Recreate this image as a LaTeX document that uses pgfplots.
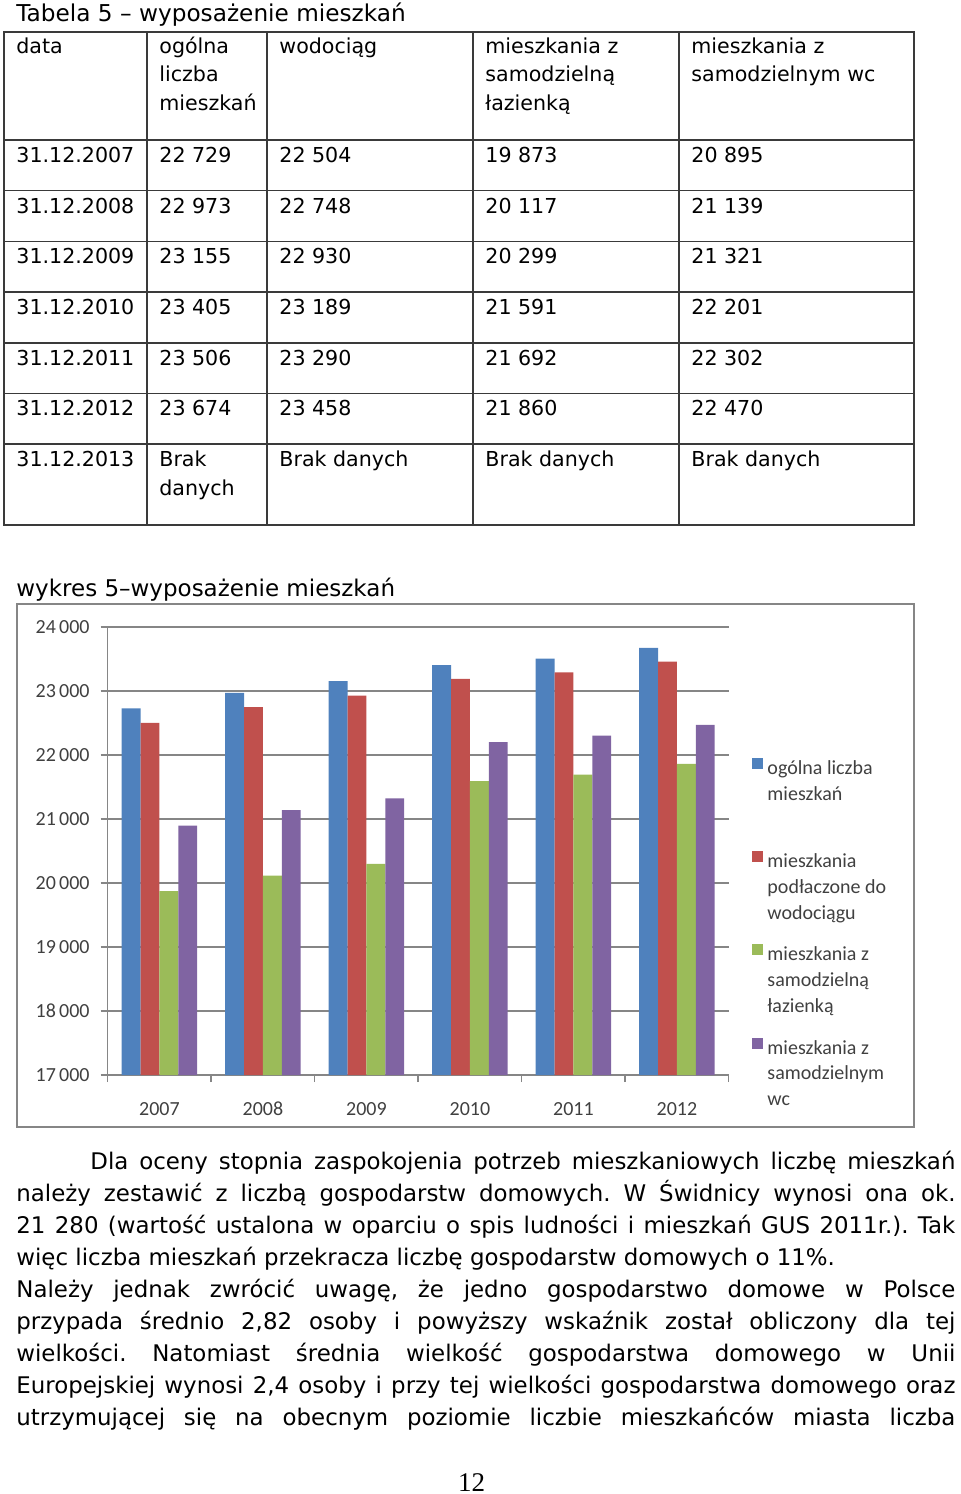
\documentclass[border=0pt]{standalone}
\usepackage{pgfplots}
\pgfplotsset{compat=1.18}
\usepackage{pgfplotstable}
\usepackage{fontspec}
\setmainfont{DejaVu Sans}
\newfontfamily\calfont{Carlito}
\newfontfamily\tmsfont{Liberation Serif}
\definecolor{sblue}{HTML}{4F81BD}
\definecolor{sred}{HTML}{C0504D}
\definecolor{sgreen}{HTML}{9BBB59}
\definecolor{spurple}{HTML}{8064A2}
\definecolor{gridgray}{HTML}{868686}
\definecolor{tabline}{HTML}{3A3A3A}
\definecolor{labelgray}{HTML}{404040}
\hyphenpenalty=10000
\exhyphenpenalty=10000
\frenchspacing

\pgfplotstableread{
x b r g p
0 22729 22504 19873 20895
1 22973 22748 20117 21139
2 23155 22930 20299 21321
3 23405 23189 21591 22201
4 23506 23290 21692 22302
5 23674 23458 21860 22470
}\datatab

\newcommand\tc[3]{\node[anchor=base west,inner sep=0pt] at (#1,#2) {#3};}
\newcommand\lgd[1]{\vtop{#1}}

\begin{document}
\begin{tikzpicture}
\path (0,0) rectangle (480pt,-747pt);
\begin{scope}[x=0.5pt,y=-0.5pt]
  \node[anchor=base west,inner sep=0pt,font=\fontsize{11.6}{13}\selectfont] at (16,21.7) {Tabela 5 – wyposażenie mieszkań};
  \draw[tabline,line width=0.75pt] (4,32) rectangle (914,525);
  \foreach \yy in {140,190.7,241.4,292.1,342.8,393.5,444.2} \draw[tabline,line width=0.75pt] (4,\yy) -- (914,\yy);
  \foreach \xx in {147,267,473,679} \draw[tabline,line width=0.75pt] (\xx,32) -- (\xx,525);
  \begin{scope}[every node/.style={font=\fontsize{10.3}{12}\selectfont}]
    \tc{16}{53}{data}
    \tc{159}{53}{ogólna}\tc{159}{81.5}{liczba}\tc{159}{110}{mieszkań}
    \tc{279}{53}{wodociąg}
    \tc{485}{53}{mieszkania z}\tc{485}{81.5}{samodzielną}\tc{485}{110}{łazienką}
    \tc{691}{53}{mieszkania z}\tc{691}{81.5}{samodzielnym wc}
    \tc{16}{162.3}{31.12.2007}\tc{159}{162.3}{22 729}\tc{279}{162.3}{22 504}\tc{485}{162.3}{19 873}\tc{691}{162.3}{20 895}
    \tc{16}{213}{31.12.2008}\tc{159}{213}{22 973}\tc{279}{213}{22 748}\tc{485}{213}{20 117}\tc{691}{213}{21 139}
    \tc{16}{263.7}{31.12.2009}\tc{159}{263.7}{23 155}\tc{279}{263.7}{22 930}\tc{485}{263.7}{20 299}\tc{691}{263.7}{21 321}
    \tc{16}{314.4}{31.12.2010}\tc{159}{314.4}{23 405}\tc{279}{314.4}{23 189}\tc{485}{314.4}{21 591}\tc{691}{314.4}{22 201}
    \tc{16}{365.1}{31.12.2011}\tc{159}{365.1}{23 506}\tc{279}{365.1}{23 290}\tc{485}{365.1}{21 692}\tc{691}{365.1}{22 302}
    \tc{16}{415.8}{31.12.2012}\tc{159}{415.8}{23 674}\tc{279}{415.8}{23 458}\tc{485}{415.8}{21 860}\tc{691}{415.8}{22 470}
    \tc{16}{466.3}{31.12.2013}\tc{159}{466.3}{Brak}\tc{159}{495}{danych}\tc{279}{466.3}{Brak danych}\tc{485}{466.3}{Brak danych}\tc{691}{466.3}{Brak danych}
  \end{scope}
  \node[anchor=base west,inner sep=0pt,font=\fontsize{11.5}{13}\selectfont] at (16,596.7) {wykres 5–wyposażenie mieszkań};
  \draw[gridgray,line width=0.75pt] (17,604) rectangle (914,1127);
  \node[anchor=base west,inner sep=0pt,text width=469.5pt,align=justify,font=\fontsize{11.45}{16}\selectfont] at (16,1169) {%
\tolerance=10000\hspace*{37pt}Dla oceny stopnia zaspokojenia potrzeb mieszkaniowych liczbę mieszkań\linebreak
należy zestawić z liczbą gospodarstw domowych. W Świdnicy wynosi ona ok.\linebreak
21~280 (wartość ustalona w oparciu o spis ludności i mieszkań GUS 2011r.). Tak\linebreak
więc liczba mieszkań przekracza liczbę gospodarstw domowych o 11\%.\par
Należy jednak zwrócić uwagę, że jedno gospodarstwo domowe w Polsce\linebreak
przypada średnio 2,82 osoby i powyższy wskaźnik został obliczony dla tej\linebreak
wielkości. Natomiast średnia wielkość gospodarstwa domowego w Unii\linebreak
Europejskiej wynosi 2,4 osoby i przy tej wielkości gospodarstwa domowego oraz\linebreak
utrzymującej się na obecnym poziomie liczbie mieszkańców miasta liczba\parfillskip=0pt\par};
  \node[anchor=base,inner sep=0pt,font=\tmsfont\fontsize{13.5}{15}\selectfont] at (471.5,1491) {12};
\end{scope}
\begin{axis}[
  at={(53.85pt,-537.5pt)}, anchor=south west,
  scale only axis, width=310.5pt, height=224pt,
  xmin=-0.5, xmax=5.5, ymin=17000, ymax=24000,
  ybar=0pt, bar width=9.45pt,
  ytick={17000,18000,...,24000},
  ymajorgrids, grid style={gridgray,line width=0.75pt},
  axis x line*=bottom, axis y line*=left,
  axis line style={-,gridgray,line width=0.75pt},
  tick style={gridgray,line width=0.75pt},
  tick align=outside, major tick length=3.5pt,
  xtick={-0.5,0.5,...,5.5}, xticklabels={},
  extra x ticks={0,1,2,3,4,5},
  extra x tick labels={2007,2008,2009,2010,2011,2012},
  extra x tick style={major tick length=0pt,xticklabel style={yshift=-10pt}},
  ticklabel style={font=\calfont\fontsize{10}{12}\selectfont,text=labelgray},
  yticklabel style={xshift=-2pt},
  /pgf/number format/assume math mode=true,
  /pgf/number format/1000 sep={\,},
  scaled y ticks=false,
  legend style={at={(1,1)},anchor=north west,xshift=11.7pt,yshift=-64.5pt,draw=none,fill=none,
    font=\calfont\fontsize{10}{12.85}\selectfont,text=labelgray,row sep=34.2pt,inner sep=0pt,
    /tikz/every even column/.append style={column sep=2pt}},
  legend cell align=left,
  every axis plot post/.append style={legend image code/.code={\fill[##1,draw=none] (0pt,0pt) rectangle (5.5pt,5.5pt);}},
]
\addplot[fill=sblue,draw=none] table[x=x,y=b]{\datatab};
\addplot[fill=sred,draw=none] table[x=x,y=r]{\datatab};
\addplot[fill=sgreen,draw=none] table[x=x,y=g]{\datatab};
\addplot[fill=spurple,draw=none] table[x=x,y=p]{\datatab};
\addlegendentry{\lgd{\hbox{ogólna liczba}\hbox{mieszkań}}}
\addlegendentry{\lgd{\hbox{mieszkania}\hbox{podłaczone do}\hbox{wodociągu}}}
\addlegendentry{\lgd{\hbox{mieszkania z}\hbox{samodzielną}\hbox{łazienką}}}
\addlegendentry{\lgd{\hbox{mieszkania z}\hbox{samodzielnym}\hbox{wc}}}
\end{axis}
\end{tikzpicture}
\end{document}
